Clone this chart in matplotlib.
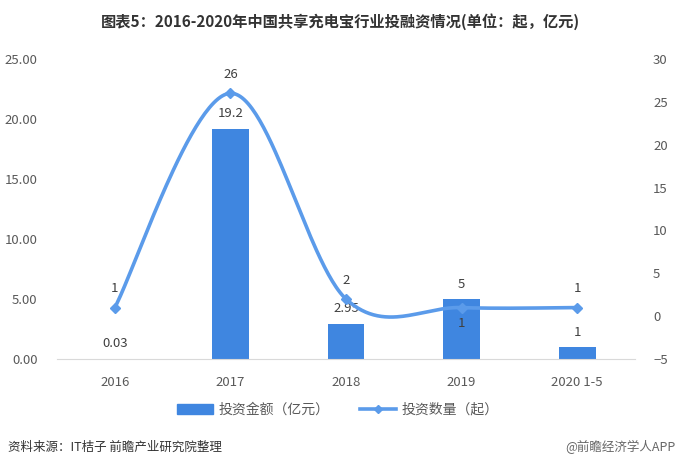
import numpy as np
import matplotlib
matplotlib.use("Agg")
import matplotlib.pyplot as plt
from matplotlib.patches import Patch
from matplotlib.lines import Line2D

plt.rcParams["font.family"] = ["Noto Sans CJK SC", "DejaVu Sans"]

# data
years = ["2016", "2017", "2018", "2019", "2020 1-5"]
amount = [0.03, 19.2, 2.95, 5, 1]          # 投资金额（亿元）, left axis
amount_labels = ["0.03", "19.2", "2.95", "5", "1"]
count = [1, 26, 2, 1, 1]                    # 投资数量（起）, right axis
count_label_above = [True, True, True, False, True]

BAR = "#3F86E0"
LINE = "#5B9BEA"
TXT = "#404040"
TICK = "#595959"


def smooth(xs, ys, n=60):
    # Excel-style smoothed line: Catmull-Rom through the data points
    xs = np.asarray(xs, float)
    ys = np.asarray(ys, float)
    px = np.concatenate([[xs[0]], xs, [xs[-1]]])
    py = np.concatenate([[ys[0]], ys, [ys[-1]]])
    outx, outy = [], []
    t = np.linspace(0, 1, n)
    for i in range(1, len(px) - 2):
        p0 = np.array([px[i], py[i]])
        p3 = np.array([px[i + 1], py[i + 1]])
        c1 = p0 + (p3 - np.array([px[i - 1], py[i - 1]])) / 6
        c2 = p3 - (np.array([px[i + 2], py[i + 2]]) - p0) / 6
        b = (((1 - t) ** 3)[:, None] * p0 + (3 * (1 - t) ** 2 * t)[:, None] * c1
             + (3 * (1 - t) * t ** 2)[:, None] * c2 + (t ** 3)[:, None] * p3)
        outx.extend(b[:, 0])
        outy.extend(b[:, 1])
    return np.array(outx), np.array(outy)


fig = plt.figure(figsize=(6.76, 4.69), dpi=100)
ax = fig.add_axes([57 / 676, 1 - 359 / 469, 578 / 676, 300 / 469])
ax2 = ax.twinx()

x = np.arange(len(years))
ax.bar(x, amount, width=0.32, color=BAR, zorder=2)
ax.set_xlim(-0.5, len(years) - 0.5)
ax.set_ylim(0, 25)
ax.set_yticks(np.arange(0, 26, 5))
ax.set_yticklabels([f"{v:.2f}" for v in np.arange(0, 26, 5)])
ax.set_xticks(x)
ax.set_xticklabels(years)

for xi, v, lab in zip(x, amount, amount_labels):
    ax.annotate(lab, (xi, v), textcoords="offset points", xytext=(0, 6),
                ha="center", va="bottom", fontsize=9.5, color=TXT)

sx, sy = smooth(x, count)
ax2.plot(sx, sy, color=LINE, lw=2.6, solid_capstyle="round", zorder=3)
ax2.plot(x, count, ls="none", marker="D", ms=5, color=LINE, zorder=4)
ax2.set_ylim(-5, 30)
ax2.set_yticks(np.arange(-5, 31, 5))

for xi, v, up in zip(x, count, count_label_above):
    ax2.annotate(str(v), (xi, v), textcoords="offset points",
                 xytext=(0, 9 if up else -7), ha="center",
                 va="bottom" if up else "top", fontsize=9.5, color=TXT)

for a in (ax, ax2):
    for s in a.spines.values():
        s.set_visible(False)
    a.tick_params(length=0, labelsize=9.5, labelcolor=TICK)
ax.spines["bottom"].set_visible(True)
ax.spines["bottom"].set_color("#d9d9d9")
ax.tick_params(axis="y", pad=14)
ax.tick_params(axis="x", pad=12)
ax2.tick_params(axis="y", pad=13)

fig.text(0.503, 1 - 22 / 469, "图表5：2016-2020年中国共享充电宝行业投融资情况(单位：起，亿元)",
         ha="center", va="center", fontsize=11, fontweight="bold", color="#333333")

handles = [Patch(color=BAR),
           Line2D([], [], color=LINE, lw=2.6, marker="D", ms=4)]
fig.legend(handles, ["投资金额（亿元）", "投资数量（起）"], loc="center",
           bbox_to_anchor=(0.5, 1 - 410 / 469), ncol=2, frameon=False,
           fontsize=10, labelcolor=TICK, handlelength=2.6, columnspacing=2.2,
           handletextpad=0.4)

fig.text(8 / 676, 1 - 447 / 469, "资料来源：IT桔子 前瞻产业研究院整理",
         ha="left", va="center", fontsize=9, color="#333333")
fig.text(1.0, 1 - 447 / 469, "@前瞻经济学人APP", ha="right", va="center",
         fontsize=9, color="#666666")

fig.savefig("out.png", dpi=100)
